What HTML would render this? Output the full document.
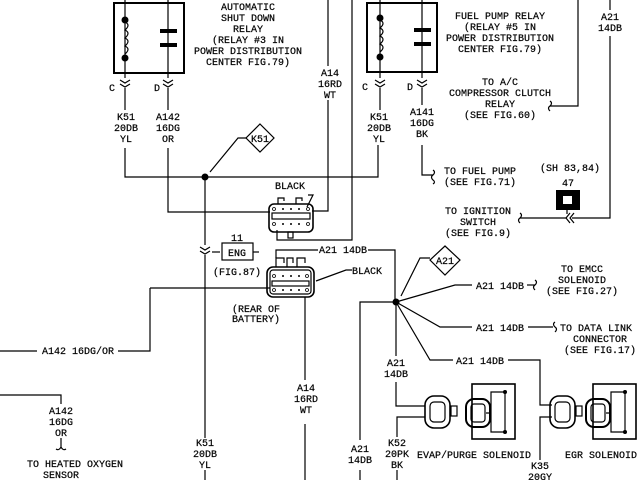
<!DOCTYPE html>
<html><head><meta charset="utf-8"><style>
html,body{margin:0;padding:0;background:#fff;}
svg{display:block;}
text{font-family:"Liberation Mono",monospace;font-size:10px;fill:#000;stroke:#000;stroke-width:0.2;}
</style></head><body>
<svg width="640" height="480" viewBox="0 0 640 480" xmlns="http://www.w3.org/2000/svg">
<g fill="none" stroke="#000" stroke-width="1.2">
<rect x="114" y="3" width="70" height="70" stroke-width="2"/>
<line x1="125" y1="0" x2="125" y2="78"/>
<line x1="168" y1="0" x2="168" y2="78"/>
<path d="M125 22 q6 3 0 8 q6 3 0 8 q6 3 0 8 q6 3 0 8"/>
<path d="M120 80 l5 3 l5 -3 M120 84 l5 3 l5 -3"/>
<path d="M163 80 l5 3 l5 -3 M163 84 l5 3 l5 -3"/>
<line x1="125" y1="88" x2="125" y2="110"/>
<line x1="168" y1="88" x2="168" y2="110"/>
<path d="M125 148 V177 H378 V145"/>
<path d="M168 148 V212 H270"/>
<rect x="367" y="3" width="70" height="69" stroke-width="2"/>
<line x1="380" y1="0" x2="380" y2="78"/>
<line x1="422" y1="0" x2="422" y2="78"/>
<path d="M380 20 q6 3 0 8 q6 3 0 8 q6 3 0 8 q6 3 0 8"/>
<path d="M375 80 l5 3 l5 -3 M375 84 l5 3 l5 -3"/>
<path d="M417 80 l5 3 l5 -3 M417 84 l5 3 l5 -3"/>
<line x1="380" y1="88" x2="380" y2="110"/>
<line x1="422" y1="88" x2="422" y2="105"/>
<path d="M422 145 V175 H433"/>
<path d="M433 170 q3 2 0 5 q-3 2 0 5 q3 2 0 4"/>
<path d="M578 0 V106 H550"/>
<path d="M550 101 q3 2 0 5 q-3 2 0 5"/>
<line x1="610" y1="0" x2="610" y2="10"/>
<path d="M610 36 V218 H572"/>
<path d="M570 213 l-4 5 l4 5 M574 213 l-4 5 l4 5"/>
<line x1="566" y1="218" x2="520" y2="218"/>
<path d="M520 213 q3 2 0 5 q-3 2 0 5"/>
<line x1="567" y1="210" x2="567" y2="214"/>
<path d="M328 0 V66"/>
<path d="M328 100 V211 H312"/>
<path d="M352 0 V240 H277 V230"/>
<polygon points="260,124 274,138 260,152 246,138" />
<path d="M246 138 H238 L210 172"/>
<path d="M205 177 V245"/>
<path d="M200 247 l5 3 l5 -3 M200 251 l5 3 l5 -3"/>
<path d="M205 255 V438"/>
<path d="M205 470 V480"/>
<line x1="212" y1="252" x2="220" y2="252"/>
<rect x="222" y="243" width="31" height="17"/>
<line x1="253" y1="252" x2="259" y2="252"/>
<rect x="269" y="204" width="44" height="28" rx="5" stroke-width="1.6"/>
<rect x="272" y="213" width="38" height="6"/>
<path d="M278 204 v-6 h6 v3 M296 204 v-6 h6 v3"/>
<rect x="288" y="232" width="5" height="6"/>
<path d="M308 195 h5 l-6 12"/>
<rect x="267" y="267" width="47" height="30" rx="6" stroke-width="1.6"/>
<rect x="270" y="270" width="41" height="24" rx="3"/>
<rect x="272" y="281" width="37" height="5"/>
<path d="M276 267 v-9 h8 v5 M287 267 v-9 h6 v5 M297 267 v-9 h8 v5"/>
<path d="M276 258 V250 H318"/>
<path d="M368 250 H395 V300"/>
<path d="M316 281 l30 -11 H352"/>
<path d="M150 288 H270"/>
<path d="M150 288 V351 H118"/>
<line x1="0" y1="351" x2="37" y2="351"/>
<path d="M305 297 V380"/>
<path d="M305 424 V480"/>
<path d="M0 395 H61 V404"/>
<path d="M61 438 V448 M56 449 q3 2 5 -2 q2 4 5 2"/>
<polygon points="445,246 460,260 445,275 430,260"/>
<path d="M430 258 H420 L401 296"/>
<path d="M396 302 L455 285 H472"/>
<line x1="527" y1="285" x2="535" y2="285"/>
<path d="M535 280 q3 2 0 5 q-3 2 0 5"/>
<path d="M396 302 L440 327 H472"/>
<line x1="528" y1="327" x2="553" y2="327"/>
<path d="M555 322 q-3 2 0 5 q3 2 0 5"/>
<path d="M396 302 L430 360 H453"/>
<path d="M508 360 H540 V405 H552"/>
<path d="M552 417 H540 V460"/>
<path d="M396 302 H360 V440"/>
<path d="M360 470 V480"/>
<path d="M396 302 V356"/>
<path d="M396 382 V406 H425"/>
<path d="M425 417 H397 V437"/>
<line x1="397" y1="470" x2="397" y2="480"/>
<rect x="425" y="396" width="25" height="32" rx="9" stroke-width="1.6"/>
<rect x="430" y="402" width="15" height="20" rx="4"/>
<rect x="451" y="406" width="6" height="10"/>
<rect x="466" y="399" width="24" height="28" rx="8" stroke-width="2"/>
<rect x="471" y="404" width="14" height="18" rx="3"/>
<rect x="472" y="384" width="43" height="55" stroke-width="1.6"/>
<path d="M486 413 H491 V392 H505 M491 413 V432 H505 M505 392 V432"/>
<rect x="550" y="396" width="25" height="32" rx="9" stroke-width="1.6"/>
<rect x="555" y="402" width="15" height="20" rx="4"/>
<rect x="576" y="406" width="6" height="10"/>
<rect x="586" y="399" width="24" height="28" rx="8" stroke-width="2"/>
<rect x="591" y="404" width="14" height="18" rx="3"/>
<rect x="593" y="384" width="43" height="55" stroke-width="1.6"/>
<path d="M606 413 H611 V392 H625 M611 413 V432 H625 M625 392 V432"/>
</g>
<g fill="none" stroke="#000" stroke-width="0.8">
<circle cx="274" cy="209" r="1.5"/><circle cx="308" cy="209" r="1.5"/>
<circle cx="274" cy="224" r="1.5"/><circle cx="308" cy="224" r="1.5"/>
<circle cx="274" cy="276" r="1.5"/><circle cx="307" cy="276" r="1.5"/>
<circle cx="274" cy="290" r="1.5"/><circle cx="307" cy="290" r="1.5"/>
</g>
<g fill="#000">
<circle cx="283" cy="209" r="1"/><circle cx="291" cy="209" r="1"/><circle cx="299" cy="209" r="1"/>
<circle cx="283" cy="224" r="1"/><circle cx="291" cy="224" r="1"/><circle cx="299" cy="224" r="1"/>
<circle cx="283" cy="276" r="1"/><circle cx="291" cy="276" r="1"/><circle cx="299" cy="276" r="1"/>
<circle cx="283" cy="290" r="1"/><circle cx="291" cy="290" r="1"/><circle cx="299" cy="290" r="1"/>
<rect x="160" y="29" width="17" height="4"/>
<rect x="160" y="43" width="17" height="4"/>
<circle cx="125" cy="20" r="3.5"/><circle cx="125" cy="58" r="3.5"/>
<rect x="414" y="28" width="17" height="4"/>
<rect x="414" y="42" width="17" height="4"/>
<circle cx="380" cy="18" r="3.5"/><circle cx="380" cy="57" r="3.5"/>
<circle cx="205" cy="177" r="3.5"/>
<circle cx="396" cy="302" r="3.5"/>
<rect x="556" y="190" width="24" height="20"/>
<circle cx="505" cy="392" r="2"/><circle cx="505" cy="432" r="2"/>
<circle cx="625" cy="392" r="2"/><circle cx="625" cy="432" r="2"/>
</g>
<rect x="563" y="196" width="9" height="8" fill="#fff"/>
<g text-anchor="middle">
<text x="248" y="10">AUTOMATIC</text>
<text x="248" y="21">SHUT DOWN</text>
<text x="248" y="32">RELAY</text>
<text x="248" y="43">(RELAY #3 IN</text>
<text x="248" y="54">POWER DISTRIBUTION</text>
<text x="248" y="65">CENTER FIG.79)</text>
<text x="112" y="91">C</text><text x="157" y="91">D</text>
<text x="126" y="120">K51</text><text x="126" y="131">20DB</text><text x="126" y="142">YL</text>
<text x="168" y="120">A142</text><text x="168" y="131">16DG</text><text x="168" y="142">OR</text>
<text x="330" y="76">A14</text><text x="330" y="87">16RD</text><text x="330" y="98">WT</text>
<text x="260" y="142">K51</text>
<text x="290" y="189">BLACK</text>
<text x="237" y="241">11</text>
<text x="237" y="256">ENG</text>
<text x="237" y="275">(FIG.87)</text>
<text x="343" y="253">A21 14DB</text>
<text x="367" y="274">BLACK</text>
<text x="256" y="312">(REAR OF</text>
<text x="256" y="322">BATTERY)</text>
<text x="78" y="354">A142 16DG/OR</text>
<text x="306" y="391">A14</text><text x="306" y="402">16RD</text><text x="306" y="413">WT</text>
<text x="61" y="414">A142</text><text x="61" y="425">16DG</text><text x="61" y="436">OR</text>
<text x="75" y="467">TO HEATED OXYGEN</text>
<text x="61" y="478">SENSOR</text>
<text x="205" y="446">K51</text><text x="205" y="457">20DB</text><text x="205" y="468">YL</text>
<text x="500" y="19">FUEL PUMP RELAY</text>
<text x="500" y="30">(RELAY #5 IN</text>
<text x="500" y="41">POWER DISTRIBUTION</text>
<text x="500" y="52">CENTER FIG.79)</text>
<text x="365" y="90">C</text><text x="410" y="90">D</text>
<text x="379" y="120">K51</text><text x="379" y="131">20DB</text><text x="379" y="142">YL</text>
<text x="422" y="115">A141</text><text x="422" y="126">16DG</text><text x="422" y="137">BK</text>
<text x="500" y="85">TO A/C</text>
<text x="500" y="96">COMPRESSOR CLUTCH</text>
<text x="500" y="107">RELAY</text>
<text x="500" y="118">(SEE FIG.60)</text>
<text x="610" y="20">A21</text><text x="610" y="31">14DB</text>
<text x="480" y="174">TO FUEL PUMP</text>
<text x="480" y="185">(SEE FIG.71)</text>
<text x="570" y="171">(SH 83,84)</text>
<text x="568" y="186">47</text>
<text x="478" y="214">TO IGNITION</text>
<text x="478" y="225">SWITCH</text>
<text x="478" y="236">(SEE FIG.9)</text>
<text x="445" y="264">A21</text>
<text x="500" y="289">A21 14DB</text>
<text x="582" y="272">TO EMCC</text>
<text x="582" y="283">SOLENOID</text>
<text x="582" y="294">(SEE FIG.27)</text>
<text x="500" y="331">A21 14DB</text>
<text x="596" y="331">TO DATA LINK</text>
<text x="600" y="342">CONNECTOR</text>
<text x="600" y="353">(SEE FIG.17)</text>
<text x="480" y="364">A21 14DB</text>
<text x="396" y="366">A21</text><text x="396" y="377">14DB</text>
<text x="474" y="458">EVAP/PURGE SOLENOID</text>
<text x="601" y="458">EGR SOLENOID</text>
<text x="360" y="452">A21</text><text x="360" y="463">14DB</text>
<text x="397" y="446">K52</text><text x="397" y="457">20PK</text><text x="397" y="468">BK</text>
<text x="540" y="469">K35</text><text x="540" y="480">20GY</text>
</g>
</svg>
</body></html>
